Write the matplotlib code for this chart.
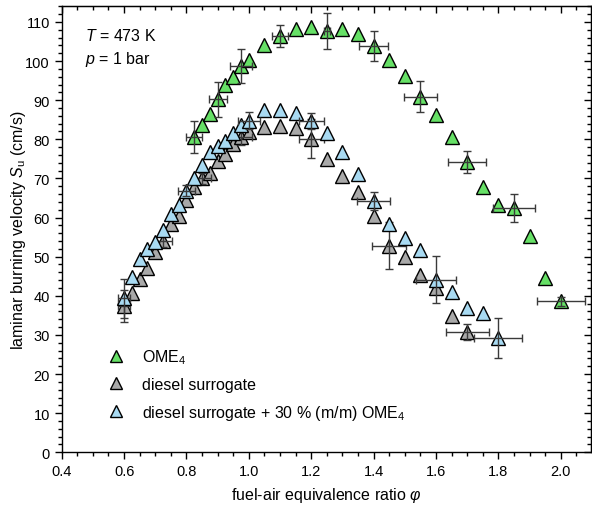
import numpy as np
import matplotlib
matplotlib.use("Agg")
import matplotlib.pyplot as plt
from matplotlib.ticker import MultipleLocator

plt.rcParams['font.family'] = ['Liberation Sans', 'DejaVu Sans']
plt.rcParams['mathtext.fontset'] = 'custom'
plt.rcParams['mathtext.rm'] = 'Liberation Sans'
plt.rcParams['mathtext.it'] = 'Liberation Sans:italic'
plt.rcParams['mathtext.default'] = 'regular'

# ---------------- data ----------------
ome_phi = [0.825, 0.85, 0.875, 0.9, 0.925, 0.95, 0.975, 1.0, 1.05, 1.1, 1.15, 1.2, 1.25, 1.3,
           1.35, 1.4, 1.45, 1.5, 1.55, 1.6, 1.65, 1.7, 1.75, 1.8, 1.85, 1.9, 1.95, 2.0]
ome_su = [80.6, 83.7, 86.5, 90.2, 93.9, 95.9, 98.7, 100.3, 104.2, 106.3, 108.3, 108.6, 107.7, 108.1,
          106.8, 103.8, 100.3, 96.3, 90.9, 86.1, 80.6, 74.2, 67.9, 63.2, 62.4, 55.2, 44.6, 38.6]
ome_err_idx = [0, 3, 6, 9, 12, 15, 18, 21, 24, 27]
ome_xerr = [0.025, 0.029, 0.036, 0.027, 0.010, 0.047, 0.052, 0.061, 0.068, 0.077]
ome_yerr = [4.0, 4.4, 4.3, 2.8, 4.7, 3.9, 3.9, 2.8, 3.6, 1.2]

ds_phi = [0.6, 0.625, 0.65, 0.675, 0.7, 0.725, 0.75, 0.775, 0.8, 0.825, 0.85, 0.875, 0.9, 0.925,
          0.95, 0.975, 1.0, 1.05, 1.1, 1.15, 1.2, 1.25, 1.3, 1.35, 1.4, 1.45, 1.5, 1.55, 1.6,
          1.65, 1.7]
ds_su = [37.4, 40.6, 44.3, 47.0, 51.2, 54.0, 58.3, 60.3, 64.6, 67.8, 70.0, 71.5, 74.4, 76.3,
         78.9, 80.6, 81.8, 83.1, 83.4, 82.9, 80.1, 75.0, 70.7, 66.5, 60.5, 52.8, 49.9, 45.3, 41.9,
         34.8, 30.8]
ds_err_idx = [0, 5, 10, 15, 20, 25, 30]
ds_xerr = [0.020, 0.030, 0.030, 0.035, 0.040, 0.054, 0.069]
ds_yerr = [4.0, 1.5, 1.5, 2.0, 5.0, 6.0, 2.1]

mix_phi = [0.6, 0.625, 0.65, 0.675, 0.7, 0.725, 0.75, 0.775, 0.8, 0.825, 0.85, 0.875, 0.9, 0.925,
           0.95, 0.975, 1.0, 1.05, 1.1, 1.15, 1.2, 1.25, 1.3, 1.35, 1.4, 1.45, 1.5, 1.55, 1.6,
           1.65, 1.7, 1.75, 1.8]
mix_su = [39.4, 44.7, 49.4, 52.0, 53.7, 56.7, 60.9, 63.3, 66.9, 70.0, 73.5, 76.7, 78.4, 79.5,
          81.7, 83.7, 84.8, 87.5, 87.4, 86.8, 84.7, 81.5, 76.7, 71.2, 64.3, 58.4, 54.7, 51.8, 44.1,
          40.9, 36.8, 35.6, 29.1]
mix_err_idx = [0, 8, 16, 20, 24, 28, 32]
mix_xerr = [0.020, 0.028, 0.035, 0.040, 0.052, 0.063, 0.077]
mix_yerr = [5.0, 1.5, 2.1, 2.0, 2.3, 6.0, 5.1]

labels = ['OME$_4$', 'diesel surrogate', 'diesel surrogate + 30 % (m/m) OME$_4$']
colors = ['#66E066', '#A9A9A9', '#A8DAF2']

# ---------------- figure ----------------
fig = plt.figure(figsize=(5.92, 5.06), dpi=100)
ax = fig.add_axes([0.1042, 0.1042, 0.8935, 0.8814])

ms = 10
series = [
    (ds_phi, ds_su, ds_err_idx, ds_xerr, ds_yerr, colors[1], labels[1], 3),
    (mix_phi, mix_su, mix_err_idx, mix_xerr, mix_yerr, colors[2], labels[2], 4),
    (ome_phi, ome_su, ome_err_idx, ome_xerr, ome_yerr, colors[0], labels[0], 5),
]
handles = {}
for phi, su, idx, xe, ye, c, lab, z in series:
    phi = np.asarray(phi); su = np.asarray(su)
    h, = ax.plot(phi, su, linestyle='none', marker='^', ms=ms, mfc=c, mec='black',
                 mew=1.0, zorder=z, label=lab)
    ax.errorbar(phi[idx], su[idx], xerr=xe, yerr=ye, fmt='none', ecolor='#3a3a3a',
                elinewidth=1.0, capsize=3, capthick=1.0, zorder=z + 0.5)
    handles[lab] = h

ax.set_xlim(0.4, 2.096)
ax.set_ylim(0, 114)
ax.xaxis.set_major_locator(MultipleLocator(0.2))
ax.xaxis.set_minor_locator(MultipleLocator(0.05))
ax.yaxis.set_major_locator(MultipleLocator(10))
ax.yaxis.set_minor_locator(MultipleLocator(2))
ax.xaxis.set_major_formatter(matplotlib.ticker.FormatStrFormatter('%.1f'))

ax.tick_params(which='both', direction='out', labelsize=10.5, width=1.0)
ax.tick_params(which='major', length=5)
ax.tick_params(which='minor', length=3)

secx = ax.secondary_xaxis('top')
secx.xaxis.set_major_locator(MultipleLocator(0.2))
secx.xaxis.set_minor_locator(MultipleLocator(0.05))
secx.tick_params(which='both', direction='in', labeltop=False, width=1.0)
secx.tick_params(which='major', length=5)
secx.tick_params(which='minor', length=3)
secy = ax.secondary_yaxis('right')
secy.yaxis.set_major_locator(MultipleLocator(10))
secy.yaxis.set_minor_locator(MultipleLocator(2))
secy.tick_params(which='both', direction='in', labelright=False, width=1.0)
secy.tick_params(which='major', length=5)
secy.tick_params(which='minor', length=3)

for s in ax.spines.values():
    s.set_linewidth(1.0)

ax.set_xlabel(r'fuel-air equivalence ratio $\mathit{\varphi}$', fontsize=11.5, labelpad=5)
ax.set_ylabel(r'laminar burning velocity $\mathit{S}_\mathrm{u}$ (cm/s)', fontsize=11.5, labelpad=-2)

ax.text(0.045, 0.925, r'$\mathit{T}$ = 473 K', transform=ax.transAxes, fontsize=11.5)
ax.text(0.045, 0.873, r'$\mathit{p}$ = 1 bar', transform=ax.transAxes, fontsize=11.5)

leg = ax.legend([handles[l] for l in labels], labels, loc='upper left',
                bbox_to_anchor=(0.088, 0.235), frameon=False, fontsize=11.5,
                handlelength=1.0, handletextpad=1.1, labelspacing=0.68,
                borderpad=0, borderaxespad=0, markerscale=0.85)

fig.savefig('out.png', dpi=100)
